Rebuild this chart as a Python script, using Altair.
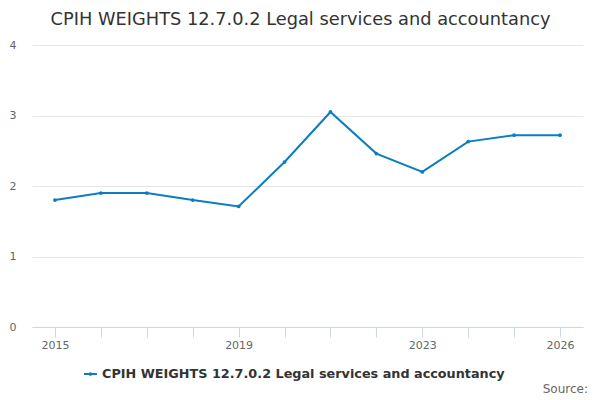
import altair as alt
import pandas as pd

years = [2015, 2016, 2017, 2018, 2019, 2020, 2021, 2022, 2023, 2024, 2025, 2026]
values = [1.80, 1.90, 1.90, 1.80, 1.71, 2.34, 3.05, 2.46, 2.20, 2.63, 2.72, 2.72]
series_name = "CPIH WEIGHTS 12.7.0.2 Legal services and accountancy"
shown_labels = [2015, 2019, 2023, 2026]

df = pd.DataFrame({"year": years, "value": values})

FONT = "DejaVu Sans"
BLUE = "#0b7dc1"

x = alt.X("year:Q",
          scale=alt.Scale(domain=[2014.5, 2026.5], nice=False, zero=False),
          axis=alt.Axis(values=years, format="d", title=None, grid=False,
                        labelExpr="indexof([" + ",".join(str(v) for v in shown_labels) + "], datum.value) >= 0 ? datum.label : ''",
                        domainColor="#ccd6eb", tickColor="#ccd6eb", tickSize=10,
                        labelColor="#666666", labelFontSize=11, labelFont=FONT,
                        labelPadding=2, labelFlush=False))
y = alt.Y("value:Q",
          scale=alt.Scale(domain=[0, 4], nice=False),
          axis=alt.Axis(values=[0, 1, 2, 3, 4], title=None, domain=False, ticks=False,
                        gridColor="#e6e6e6", labelColor="#666666", labelFontSize=11,
                        labelFont=FONT, labelPadding=16, format="d"))

line = alt.Chart(df).mark_line(color=BLUE, strokeWidth=2).encode(x=x, y=y)
pts = alt.Chart(df).mark_point(color=BLUE, filled=True, size=14, opacity=1).encode(x=x, y=y)

legend_line = alt.Chart(df.head(1)).mark_rule(color=BLUE, strokeWidth=2).encode(
    x=alt.value(52), x2=alt.value(65), y=alt.value(329))
legend_pt = alt.Chart(df.head(1)).mark_point(color=BLUE, filled=True, size=14, opacity=1).encode(
    x=alt.value(58.5), y=alt.value(329))
legend_txt = alt.Chart(df.head(1)).mark_text(
    text=series_name, align="left", baseline="middle", fontSize=12.8, fontWeight="bold",
    color="#333333", font=FONT).encode(x=alt.value(70), y=alt.value(329))
source_txt = alt.Chart(df.head(1)).mark_text(
    text="Source:", align="right", baseline="middle", fontSize=12,
    color="#666666", font=FONT).encode(x=alt.value(556), y=alt.value(344))

chart = alt.layer(line, pts, legend_line, legend_pt, legend_txt, source_txt).properties(
    width=551, height=282,
    title=alt.TitleParams(series_name, fontSize=17.8, fontWeight="normal", color="#333333",
                          font=FONT, anchor="middle", offset=10, dx=-7),
    autosize=alt.AutoSizeParams(type="none"),
    padding={"left": 24, "top": 37, "right": 9, "bottom": 71},
).configure_view(stroke=None)

chart.save("out.html", embed_options={"renderer": "svg", "actions": False})
